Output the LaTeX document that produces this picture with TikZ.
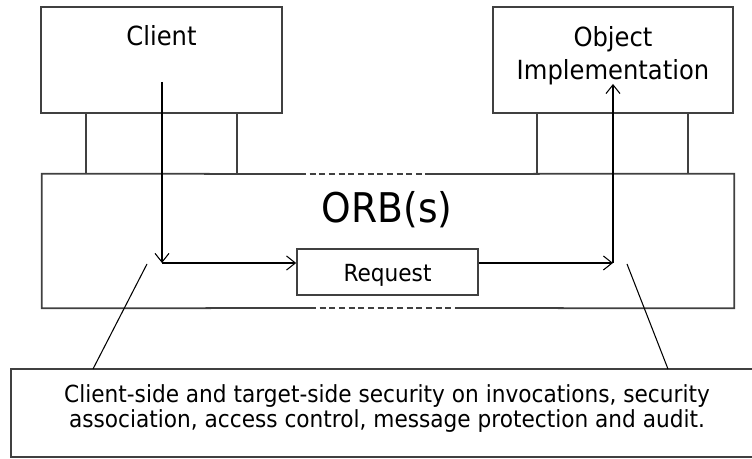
\documentclass[tikz,border=0pt]{standalone}
\usepackage{fontspec}
\setmainfont{DejaVu Sans}[FakeStretch=0.92]
\usetikzlibrary{arrows.meta}

\tikzset{
	box/.style={draw=black!75, line width=1pt, inner sep=0pt},
	flow/.style={line width=0.6pt},
	lbl/.style={font=\fontsize{15}{19.3}\selectfont, anchor=base},
	small/.style={font=\fontsize{13.4}{14.7}\selectfont, anchor=base}
}

\begin{document}
\begin{tikzpicture}[x=0.02cm, y=-0.02cm, >={Straight Barb[length=5pt,width=8pt]}]
	\useasboundingbox (0,0) rectangle (752,459);
	%\draw [help lines, step=50] (0,0) grid (752,459);

	% client and target objects
	\node [box, minimum width=4.82cm, minimum height=2.12cm] (client) at (161.5,60) {};
	\node [lbl] (clientlbl) at (161.5,46) {Client};
	\node [box, minimum width=4.80cm, minimum height=2.12cm] (object) at (613,60) {};
	\node [lbl, align=center] (objectlbl) at (613,80) {Object\\Implementation};

	% the ORB, open top and bottom
	\node [minimum width=13.84cm, minimum height=2.68cm] (orb) at (388,241) {};
	\draw [box] (300,174) -- (orb.north west) -- (orb.south west) -- (310,308);
	\draw [box] (425,174) -- (orb.north east) -- (orb.south east) -- (455,308);
	\draw [box, dash pattern=on 3.5pt off 2pt] (300,174) -- (425,174);
	\draw [box, dash pattern=on 3.5pt off 2pt] (310,308) -- (455,308);
	\node [font=\fontsize{23.3}{28}\selectfont, anchor=base] (orblbl) at (387,223) {ORB(s)};

	% legs down to the ORB
	\coordinate (cleg1) at (86,113);
	\coordinate (cleg2) at (237,113);
	\coordinate (oleg1) at (537,113);
	\coordinate (oleg2) at (688,113);
	\foreach \l in {cleg1,cleg2,oleg1,oleg2}
		\draw [box] (\l) -- (\l |- orb.north);

	% request path
	\node [box, minimum width=3.62cm, minimum height=0.92cm] (request) at (387.5,272) {};
	\node [small] (requestlbl) at (387.5,282) {Request};
	\coordinate (cstart) at (162,82);
	\coordinate (cturn) at (162,263);
	\coordinate (oturn) at (613,263);
	\coordinate (oend) at (613,84);
	\draw [flow, ->] (cstart) -- (cturn);
	\draw [flow, ->] (cturn) -- (cturn -| request.west);
	\draw [flow, ->] (cturn -| request.east) -- (oturn);
	\draw [flow, ->] (oturn) -- (oend);

	% note box with its two pointers
	\node [box, minimum width=14.98cm, minimum height=1.76cm] (note) at (385.5,413) {};
	\node [small, align=center] (notelbl) at (387,428) {Client-side and target-side security on invocations, security\\association, access control, message protection and audit.};
	\coordinate (lcall) at (147,264);
	\coordinate (lfoot) at (93,369);
	\coordinate (rcall) at (627,264);
	\coordinate (rfoot) at (668,369);
	\draw [flow] (lcall) -- (lfoot);
	\draw [flow] (rcall) -- (rfoot);
\end{tikzpicture}
\end{document}
